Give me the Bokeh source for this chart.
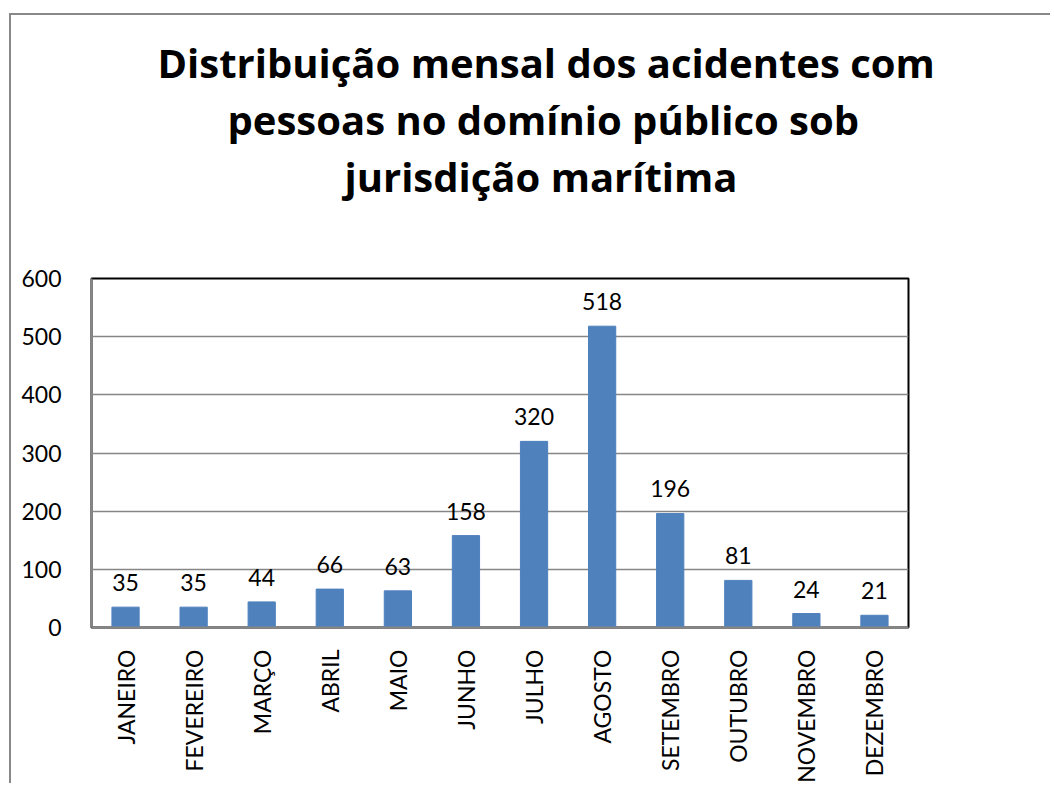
import math
from bokeh.plotting import figure
from bokeh.models import ColumnDataSource, LabelSet, Title, Range1d, FixedTicker
from bokeh.core.properties import value
from bokeh.embed import file_html
from bokeh.resources import INLINE

months = ["JANEIRO", "FEVEREIRO", "MARÇO", "ABRIL", "MAIO", "JUNHO",
          "JULHO", "AGOSTO", "SETEMBRO", "OUTUBRO", "NOVEMBRO", "DEZEMBRO"]
values = [35, 35, 44, 66, 63, 158, 320, 518, 196, 81, 24, 21]
y_ticks = [0, 100, 200, 300, 400, 500, 600]
title_lines = ["Distribuição mensal dos acidentes com",
               "pessoas no domínio público sob",
               "jurisdição marítima"]

FONT = "Lato"
TFONT = "Open Sans"
BAR = "#4F81BD"
GRAY = "#868686"

src = ColumnDataSource(dict(m=months, v=values, lab=[str(v) for v in values]))

p = figure(x_range=months, y_range=Range1d(0, 600), width=1041, height=770,
           output_backend="svg", toolbar_location=None,
           min_border_left=80, min_border_right=144, min_border_top=263,
           min_border_bottom=155)
p.margin = (15, 0, 0, 11)
p.styles = {"box-shadow": "-2px -2px 0 0 #888888"}

p.vbar(x="m", top="v", width=0.4, source=src, fill_color=BAR, line_color=BAR)

labels = LabelSet(x="m", y="v", text="lab", source=src, y_offset=16,
                  text_align="center", text_baseline="bottom",
                  text_font=value(FONT), text_font_size="23px",
                  text_color="black")
p.add_layout(labels)

# blank spacer between the frame and the title block
p.add_layout(Title(text=" ", text_font_size="1px", standoff=72), "above")

# title: one Title per line, stacked outward from the frame (last line first)
offsets = [66, 136, 253]
for line, off in reversed(list(zip(title_lines, offsets))):
    p.add_layout(Title(text=line, align="left", offset=off, standoff=0,
                       text_font=TFONT, text_font_size="40px",
                       text_font_style="bold", text_color="black"), "above")

p.outline_line_color = "black"
p.outline_line_width = 2

p.xgrid.grid_line_color = None
p.ygrid.grid_line_color = GRAY
p.ygrid.grid_line_width = 1.5
p.yaxis.ticker = FixedTicker(ticks=y_ticks)

for ax in (p.xaxis[0], p.yaxis[0]):
    ax.axis_line_color = GRAY
    ax.axis_line_width = 2
    ax.major_tick_line_color = None
    ax.minor_tick_line_color = None
    ax.major_label_text_font = FONT
    ax.major_label_text_font_size = "23px"
    ax.major_label_text_color = "black"

p.yaxis.major_label_standoff = 24
p.xaxis.major_label_standoff = 16
p.xaxis.major_label_orientation = math.pi / 2
p.x_range.range_padding = 0

open("out.html", "w").write(file_html(p, INLINE))
